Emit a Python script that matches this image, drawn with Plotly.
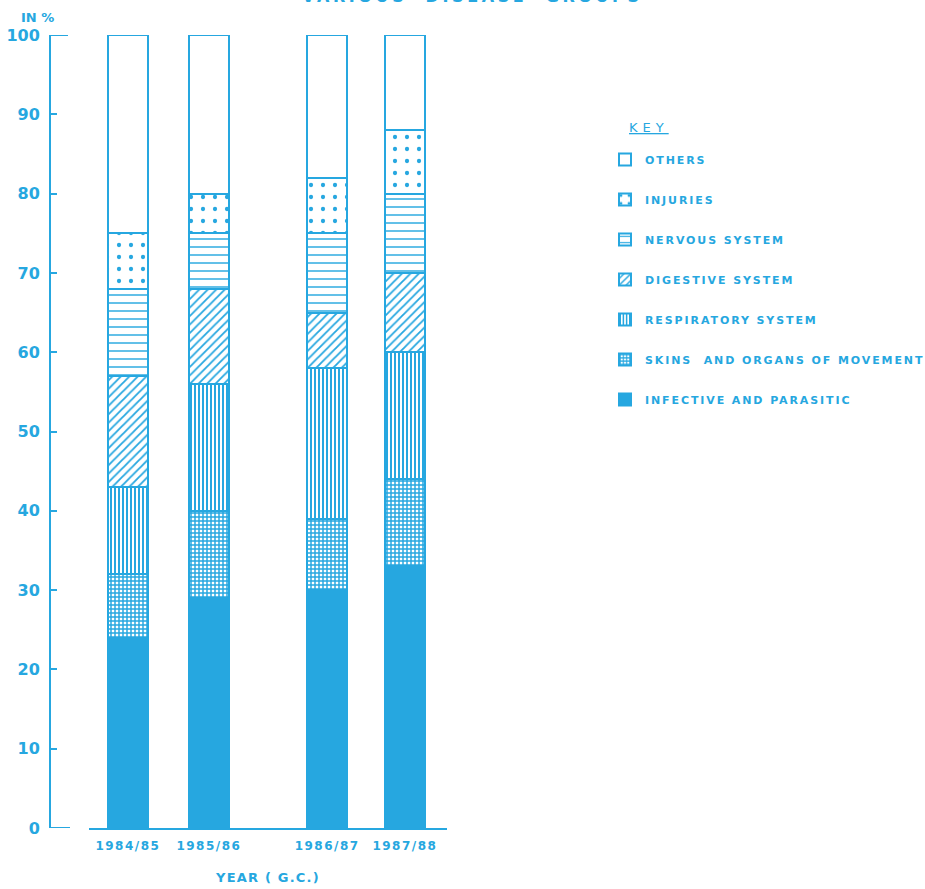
import plotly.graph_objects as go

years = ["1984/85", "1985/86", "1986/87", "1987/88"]
infective = [24, 29, 30, 33]
skins = [8, 11, 9, 11]
respiratory = [11, 16, 19, 16]
digestive = [14, 12, 7, 10]
nervous = [11, 7, 10, 10]
injuries = [7, 5, 7, 8]
others = [25, 20, 18, 12]

series_names = [
    "INFECTIVE AND PARASITIC",
    "SKINS  AND ORGANS OF MOVEMENT",
    "RESPIRATORY SYSTEM",
    "DIGESTIVE SYSTEM",
    "NERVOUS SYSTEM",
    "INJURIES",
    "OTHERS",
]
series_values = [infective, skins, respiratory, digestive, nervous, injuries, others]
y_ticks = [0, 10, 20, 30, 40, 50, 60, 70, 80, 90, 100]

# layout-only settings
xpos = [0, 1, 2.46, 3.42]
CYAN = "#26A7E0"
FONT = "DejaVu Sans"
W, H = 925, 889
ML, MR, MT, MB = 50, 0, 35, 61
PW = W - ML - MR
PH = H - MT - MB

def px2x(px):
    return (px - ML) / PW

def py2y(py):
    return 1 + (MT - py) / PH

patterns = [
    dict(shape="", fillmode="replace"),
    dict(shape="+", size=4, solidity=0.6, fgcolor=CYAN, bgcolor="white", fillmode="replace"),
    dict(shape="|", size=4, solidity=0.5, fgcolor=CYAN, bgcolor="white", fillmode="replace"),
    dict(shape="/", size=6, solidity=0.3, fgcolor=CYAN, bgcolor="white", fillmode="replace"),
    dict(shape="-", size=8, solidity=0.18, fgcolor=CYAN, bgcolor="white", fillmode="replace"),
    dict(shape=".", size=12, solidity=0.1, fgcolor=CYAN, bgcolor="white", fillmode="replace"),
    dict(shape="", fillmode="replace"),
]
fills = [CYAN, CYAN, CYAN, CYAN, CYAN, CYAN, "white"]

def spaced(t, s=1.5):
    return f'<span style="letter-spacing:{s}px">{t}</span>'

fig = go.Figure()
n = len(series_names)
for i, (name, vals) in enumerate(zip(series_names, series_values)):
    fig.add_trace(go.Bar(
        x=xpos, y=vals, name=spaced(name, 1.9), legendgroup=f"g{i}",
        legendrank=100 + (n - i),
        width=0.5,
        marker=dict(color=fills[i], pattern=patterns[i],
                    line=dict(color=CYAN, width=2)),
        hoverinfo="skip",
    ))

fig.update_layout(
    width=W, height=H,
    margin=dict(l=ML, r=MR, t=MT, b=MB, autoexpand=False),
    barmode="stack",
    plot_bgcolor="white", paper_bgcolor="white",
    font=dict(family=FONT, color=CYAN, size=12, weight="bold"),
    showlegend=True,
    legend=dict(
        x=px2x(605), y=py2y(145), xanchor="left", yanchor="top",
        traceorder="grouped", tracegroupgap=21,
        font=dict(family=FONT, size=11, color=CYAN, weight="bold"),
        bgcolor="rgba(0,0,0,0)",
    ),
    xaxis=dict(
        domain=[px2x(89), px2x(447)],
        range=[-0.48, 3.94],
        tickvals=xpos, ticktext=[spaced(y, 1.5) for y in years],
        showgrid=False, zeroline=False,
        showline=True, linecolor=CYAN, linewidth=2,
        ticks="", tickfont=dict(size=12, color=CYAN),
        ticklabelstandoff=6,
        title=dict(text=spaced("YEAR ( G.C.)", 1.2), standoff=20,
                   font=dict(size=13, color=CYAN)),
    ),
    yaxis=dict(
        range=[0, 100], anchor="free", position=0,
        tickvals=y_ticks,
        showgrid=False, zeroline=False,
        showline=True, linecolor=CYAN, linewidth=2,
        ticks="inside", ticklen=6, tickwidth=2, tickcolor=CYAN,
        tickfont=dict(size=16, color=CYAN),
        ticklabelstandoff=6,
    ),
    annotations=[
        dict(text="IN %", x=px2x(37), y=py2y(17), xref="paper", yref="paper",
             xanchor="center", yanchor="middle",
             showarrow=False, font=dict(size=13, color=CYAN, weight="bold")),
        dict(text=spaced("VARIOUS  DISEASE  GROUPS", 3.6), x=px2x(472), y=py2y(-3),
             xref="paper", yref="paper", xanchor="center", yanchor="middle",
             showarrow=False, font=dict(size=16, color=CYAN, weight="bold")),
        dict(text="<u>" + spaced("KEY", 5) + "</u>", x=px2x(649), y=py2y(128),
             xref="paper", yref="paper", xanchor="center", yanchor="middle",
             showarrow=False, font=dict(size=13, color=CYAN, weight="normal")),
    ],
    shapes=[
        dict(type="line", xref="paper", yref="y", x0=0, x1=px2x(68), y0=100, y1=100,
             line=dict(color=CYAN, width=2)),
        dict(type="line", xref="paper", yref="y", x0=0, x1=px2x(70), y0=0, y1=0,
             line=dict(color=CYAN, width=2)),
    ],
)

fig.write_html(
    "out.html",
    config={"displayModeBar": False},
    post_script="document.body.style.margin='0';document.body.style.overflow='hidden';",
)
